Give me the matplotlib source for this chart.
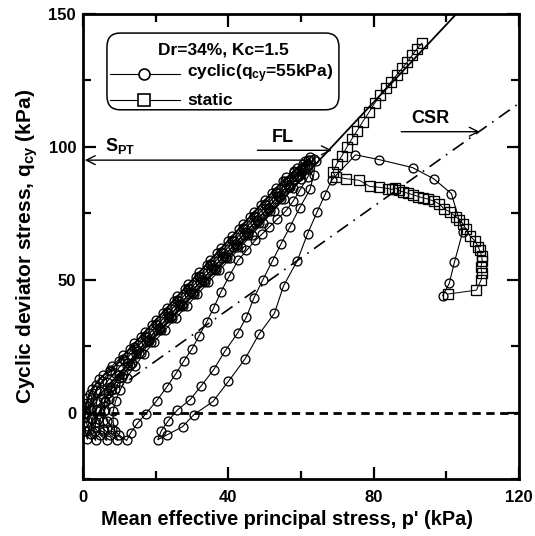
import matplotlib
matplotlib.use("Agg")
import matplotlib.pyplot as plt
from matplotlib.patches import FancyBboxPatch
from matplotlib.lines import Line2D
from matplotlib.ticker import MultipleLocator

plt.rcParams["font.family"] = ["Liberation Sans", "DejaVu Sans"]
plt.rcParams["font.weight"] = "bold"
plt.rcParams["mathtext.fontset"] = "custom"
plt.rcParams["mathtext.rm"] = "Liberation Sans:bold"
plt.rcParams["mathtext.bf"] = "Liberation Sans:bold"
plt.rcParams["mathtext.it"] = "Liberation Sans:bold"

# ---- data -------------------------------------------------------------
# cyclic undrained test, (p', q) in kPa, in loading order
cyclic_path = [
    # first loading
    (99.0, 44.0), (100.8, 48.6), (102.2, 56.5), (104.5, 68.0), (101.4, 82.4),
    (96.5, 88.0), (90.7, 92.2), (81.5, 95.2), (75.0, 97.0),
    # first unloading
    (68.4, 87.4), (66.5, 81.7), (64.4, 75.4), (61.8, 67.3), (59.0, 57.2),
    (55.2, 47.7), (52.7, 37.4), (48.4, 29.4), (44.5, 20.0), (40.0, 11.7),
    (35.8, 4.2), (30.5, -0.8), (27.4, -5.3), (23.2, -8.3), (20.6, -10.2),
    # cycle 2
    (21.5, -7.0), (23.5, -3.0), (26.0, 1.0), (29.5, 4.9), (32.5, 10.0),
    (36.0, 16.2), (39.0, 23.0), (42.6, 30.0), (45.0, 36.0), (47.0, 43.0),
    (49.5, 50.0), (52.2, 57.2), (54.5, 63.5), (57.0, 70.0), (59.6, 77.0),
    (62.5, 84.0), (63.5, 89.5), (64.0, 94.5),
    (61.8, 88.5), (59.6, 83.5), (57.8, 79.5), (55.9, 76.0), (53.5, 72.8),
    (51.2, 69.8), (49.3, 67.2), (47.4, 64.8), (45.0, 61.0), (42.7, 57.3),
    (40.3, 51.5), (38.0, 45.5), (36.0, 39.5), (34.0, 34.0), (32.0, 29.0),
    (30.0, 24.0), (27.8, 19.5), (25.5, 14.5), (23.0, 9.5), (20.3, 4.5),
    (17.3, -0.4), (15.0, -4.0), (13.2, -7.5), (12.0, -10.5),
    # cycle 3
    (10.0, -8.5), (8.0, -6.0), (6.5, -3.0), (5.8, 0.5), (6.0, 4.0),
    (7.0, 7.5), (8.8, 11.0), (11.0, 14.5), (13.5, 18.5), (16.0, 22.5),
    (18.8, 26.5), (21.5, 31.0), (24.5, 35.5), (27.5, 40.0), (30.5, 44.5),
    (33.5, 49.0), (36.5, 53.5), (39.5, 58.0), (42.5, 62.5), (45.5, 67.0),
    (48.5, 71.5), (51.5, 76.0), (54.5, 80.5), (57.0, 85.0), (59.5, 89.0),
    (62.0, 93.0), (63.5, 95.5),
    (62.0, 91.5), (60.0, 88.0), (57.8, 84.5), (55.3, 80.5), (52.5, 76.0),
    (49.5, 71.5), (46.5, 67.0), (43.5, 62.5), (40.5, 58.0), (37.5, 53.5),
    (34.5, 49.0), (31.5, 44.5), (28.5, 40.0), (25.5, 35.5), (22.5, 31.0),
    (19.5, 26.5), (16.8, 22.0), (14.2, 17.5), (12.0, 13.0), (10.2, 8.5),
    (9.0, 4.5), (8.3, 0.5), (8.3, -3.5), (8.8, -7.0), (9.5, -10.5),
    # cycle 4
    (7.5, -8.5), (5.5, -6.0), (4.0, -2.5), (3.5, 1.0), (3.8, 4.5),
    (4.8, 8.0), (6.5, 11.5), (8.8, 15.0), (11.5, 19.5), (14.5, 24.0),
    (17.5, 28.5), (20.5, 33.0), (23.5, 37.5), (26.5, 42.0), (29.5, 46.5),
    (32.5, 51.0), (35.5, 55.5), (38.5, 60.0), (41.5, 64.5), (44.5, 69.0),
    (47.5, 73.5), (50.5, 78.0), (53.5, 82.5), (56.5, 87.0), (59.5, 91.0),
    (62.5, 95.0),
    (61.0, 92.0), (59.0, 88.5), (56.8, 85.0), (54.2, 81.0), (51.3, 76.5),
    (48.3, 72.0), (45.3, 67.5), (42.3, 63.0), (39.3, 58.5), (36.3, 54.0),
    (33.3, 49.5), (30.3, 45.0), (27.3, 40.5), (24.3, 36.0), (21.3, 31.5),
    (18.3, 27.0), (15.5, 22.5), (13.0, 18.0), (10.8, 13.5), (8.8, 9.0),
    (7.2, 5.0), (6.0, 1.0), (5.5, -3.0), (5.8, -7.0), (6.5, -10.5),
    # cycle 5
    (4.8, -8.5), (3.2, -5.5), (2.2, -2.0), (2.0, 1.5), (2.5, 5.0),
    (3.6, 8.5), (5.3, 12.0), (7.5, 15.5), (10.0, 19.5), (13.0, 24.0),
    (16.0, 28.5), (19.0, 33.0), (22.0, 37.5), (25.0, 42.0), (28.0, 46.5),
    (31.0, 51.0), (34.0, 55.5), (37.0, 60.0), (40.0, 64.5), (43.0, 69.0),
    (46.0, 73.5), (49.0, 78.0), (52.0, 82.5), (55.0, 87.0), (58.0, 91.0),
    (61.0, 94.5),
    (60.0, 91.5), (58.0, 88.0), (55.8, 84.5), (53.2, 80.5), (50.3, 76.0),
    (47.3, 71.5), (44.3, 67.0), (41.3, 62.5), (38.3, 58.0), (35.3, 53.5),
    (32.3, 49.0), (29.3, 44.5), (26.3, 40.0), (23.3, 35.5), (20.3, 31.0),
    (17.3, 26.5), (14.5, 22.0), (12.0, 17.5), (9.8, 13.0), (7.8, 8.5),
    (6.0, 4.5), (4.5, 0.5), (3.5, -3.5), (3.2, -7.0), (3.5, -10.5),
    # cycle 6
    (2.2, -8.0), (1.2, -5.0), (0.6, -1.5), (0.6, 2.0), (1.2, 5.5),
    (2.4, 9.0), (4.5, 12.5), (7.5, 16.0), (11.0, 20.0), (14.0, 24.5),
    (17.0, 29.0), (20.0, 33.5), (23.0, 38.0), (26.0, 42.5), (29.0, 47.0),
    (32.0, 51.5), (35.0, 56.0), (38.0, 60.5), (41.0, 65.0), (44.0, 69.5),
    (47.0, 74.0), (50.0, 78.5), (53.0, 83.0), (55.5, 87.0), (58.0, 90.5),
    (60.5, 93.5), (62.5, 96.0),
    (60.5, 92.5), (58.5, 89.0), (56.3, 85.5), (53.7, 81.5), (50.8, 77.0),
    (47.8, 72.5), (44.8, 68.0), (41.8, 63.5), (38.8, 59.0), (35.8, 54.5),
    (32.8, 50.0), (29.8, 45.5), (26.8, 41.0), (23.8, 36.5), (20.8, 32.0),
    (17.8, 27.5), (15.0, 23.0), (12.3, 18.5), (9.8, 14.0), (7.5, 9.5),
    (5.5, 5.5), (3.8, 1.5), (2.5, -2.5), (1.6, -6.5), (1.2, -10.0),
    # cycle 7
    (0.6, -7.0), (0.3, -3.5), (0.5, 0.0), (1.0, 3.5), (2.0, 7.0),
    (3.5, 10.5), (5.5, 14.0), (8.0, 17.5), (11.0, 21.5), (14.0, 26.0),
    (17.0, 30.5), (20.0, 35.0), (23.0, 39.5), (26.0, 44.0), (29.0, 48.5),
    (32.0, 53.0), (35.0, 57.5), (38.0, 62.0), (41.0, 66.5), (44.0, 71.0),
    (47.0, 75.5), (50.0, 80.0), (53.0, 84.5), (56.0, 88.5), (59.0, 92.0),
    (62.0, 95.0),
]

# monotonic undrained test, (p', q) in kPa
static_path = [
    (100.4, 44.6), (108.3, 46.1), (109.6, 50.0), (109.8, 52.5), (109.5, 54.7),
    (109.9, 57.0), (109.7, 59.1), (109.2, 61.0), (108.8, 62.2), (108.0, 64.5),
    (106.4, 66.6), (105.5, 69.0), (104.6, 71.0), (103.6, 72.5), (102.7, 73.6),
    (101.0, 75.5), (99.4, 76.7), (98.0, 78.5), (96.6, 79.6), (95.0, 80.3),
    (93.6, 80.8), (92.3, 81.3), (90.8, 82.0), (89.5, 82.5), (88.2, 83.0),
    (87.0, 83.6), (86.0, 84.5), (85.0, 84.0), (84.0, 84.3), (81.5, 84.8),
    (78.9, 85.1), (76.1, 87.4), (72.5, 88.0), (69.5, 88.7), (68.8, 90.6),
    (69.8, 93.5), (71.2, 96.5), (72.6, 99.8), (74.0, 103.0), (75.4, 106.0),
    (77.0, 109.5), (78.7, 113.0), (80.3, 116.5), (81.8, 119.5), (83.3, 122.0),
    (84.8, 124.5), (86.3, 127.0), (87.8, 129.5), (89.3, 132.0), (90.6, 134.5),
    (92.0, 137.0), (93.3, 139.0),
]

failure_slope = 1.46      # q/p' of the failure line (FL)
csr_slope = 0.97          # q/p' of the CSR line
q_spt = 95.0              # S_PT level
p_axis = [0, 120]
q_axis = [-25, 150]

# ---- figure -----------------------------------------------------------
fig = plt.figure(figsize=(5.35, 5.36), dpi=100)
ax = fig.add_axes([0.1551, 0.1063, 0.815, 0.8676])

p_cyc = [pt[0] for pt in cyclic_path]
q_cyc = [pt[1] for pt in cyclic_path]
p_sta = [pt[0] for pt in static_path]
q_sta = [pt[1] for pt in static_path]

# reference lines
ax.plot(p_axis, [0, 0], color="black", lw=2.0, dashes=(3, 2), zorder=1)
ax.plot([0, p_axis[1]], [0, csr_slope * p_axis[1]], color="black", lw=1.2,
        linestyle=(0, (8, 4, 1, 4)), zorder=1)
ax.plot([0, q_axis[1] / failure_slope], [0, q_axis[1]], color="black",
        lw=1.3, zorder=2)

ax.plot(p_cyc, q_cyc, color="black", lw=0.8, marker="o", markersize=6.4,
        markerfacecolor="none", markeredgecolor="black", markeredgewidth=0.95,
        zorder=3)
ax.plot(p_sta, q_sta, color="black", lw=0.7, marker="s", markersize=7.0,
        markerfacecolor="none", markeredgecolor="black", markeredgewidth=0.95,
        zorder=3)

# annotations
arrow_kw = dict(arrowstyle="->", lw=1.0, color="black", mutation_scale=16,
                shrinkA=0, shrinkB=0)
ax.annotate("", xy=(0.5, q_spt), xytext=(62, q_spt), arrowprops=arrow_kw,
            zorder=4)
ax.text(6.0, q_spt + 1.5, r"S$_{\mathrm{PT}}$", fontsize=13, fontweight="bold",
        ha="left", va="bottom")
ax.annotate("", xy=(68.5, 98.7), xytext=(48.0, 98.7), arrowprops=arrow_kw,
            zorder=4)
ax.text(55.0, 100.5, "FL", fontsize=13, fontweight="bold", ha="center",
        va="bottom")
ax.annotate("", xy=(109.2, 105.7), xytext=(87.6, 105.7), arrowprops=arrow_kw,
            zorder=4)
ax.text(95.6, 107.5, "CSR", fontsize=13, fontweight="bold", ha="center",
        va="bottom")

# legend box
box = FancyBboxPatch((0.055, 0.794), 0.532, 0.165,
                     boxstyle="round,pad=0,rounding_size=0.03",
                     transform=ax.transAxes, facecolor="white",
                     edgecolor="black", lw=1.1, zorder=5)
ax.add_patch(box)
ax.text(0.321, 0.923, "Dr=34%, Kc=1.5", transform=ax.transAxes, fontsize=12.5,
        fontweight="bold", ha="center", va="center", zorder=6)
rows = [(0.871, "o", r"cyclic(q$_{\mathrm{cy}}$=55kPa)", 6.4),
        (0.815, "s", "static", 7.0)]
for y, mk, label, ms in rows:
    ax.add_line(Line2D([0.062, 0.222], [y, y], transform=ax.transAxes,
                       color="black", lw=0.8, zorder=6))
    ax.add_line(Line2D([0.140], [y], transform=ax.transAxes, marker=mk,
                       markersize=ms + 1.5, markerfacecolor="white",
                       markeredgecolor="black", markeredgewidth=1.2,
                       zorder=7))
    ax.text(0.2385, y, label, transform=ax.transAxes, fontsize=12.5,
            fontweight="bold", ha="left", va="center", zorder=6)

# axes
ax.set_xlim(*p_axis)
ax.set_ylim(*q_axis)
ax.xaxis.set_major_locator(MultipleLocator(40))
ax.xaxis.set_minor_locator(MultipleLocator(20))
ax.yaxis.set_major_locator(MultipleLocator(50))
ax.yaxis.set_minor_locator(MultipleLocator(25))
ax.tick_params(which="both", direction="in", top=True, right=True,
               labelsize=12, width=1.6)
ax.tick_params(axis="x", which="both", pad=8)
ax.tick_params(axis="y", which="both", pad=5)
ax.tick_params(which="major", length=9)
ax.tick_params(which="minor", length=5.5)
for lab in ax.get_xticklabels() + ax.get_yticklabels():
    lab.set_fontweight("bold")
for sp in ax.spines.values():
    sp.set_linewidth(2.0)

ax.set_xlabel("Mean effective principal stress, p' (kPa)", fontsize=14.3,
              fontweight="bold")
ax.xaxis.set_label_coords(0.468, -0.086, transform=ax.transAxes)
ax.xaxis.label.set_va("center")
ax.set_ylabel(r"Cyclic deviator stress, q$_{\mathrm{cy}}$ (kPa)", fontsize=15,
              fontweight="bold", labelpad=6)

fig.savefig("out.png", dpi=100)
